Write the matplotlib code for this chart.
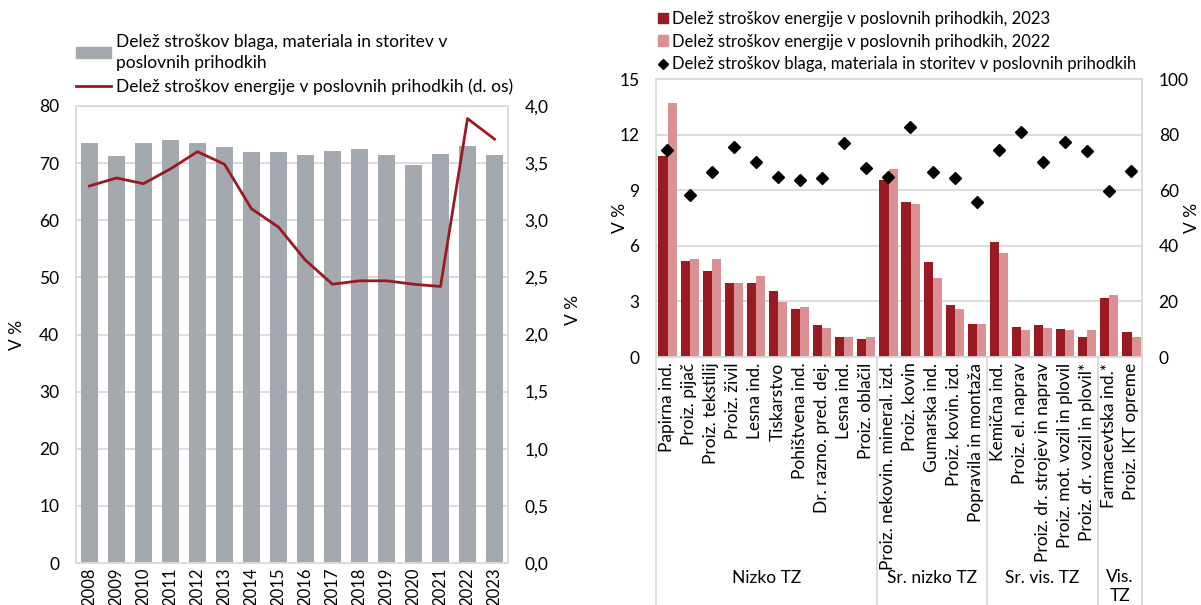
import matplotlib
matplotlib.use('Agg')
import matplotlib.pyplot as plt
from matplotlib.patches import Patch
from matplotlib.lines import Line2D
import matplotlib.transforms as mtransforms

plt.rcParams['font.family'] = ['Lato', 'DejaVu Sans']

# ---------------- data ----------------
years = [str(y) for y in range(2008, 2024)]
goods_share = [73.6, 71.3, 73.5, 74.1, 73.6, 72.9, 72.0, 71.9, 71.4, 72.2,
               72.5, 71.5, 69.6, 71.6, 73.0, 71.5]
energy_share = [3.30, 3.37, 3.32, 3.45, 3.60, 3.49, 3.10, 2.94, 2.65, 2.44,
                2.47, 2.47, 2.44, 2.42, 3.89, 3.71]

industries = ['Papirna ind.', 'Proiz. pijač', 'Proiz. tekstilij', 'Proiz. živil',
              'Lesna ind.', 'Tiskarstvo', 'Pohištvena ind.', 'Dr. razno. pred. dej.',
              'Lesna ind.', 'Proiz. oblačil',
              'Proiz. nekovin. mineral. izd.', 'Proiz. kovin', 'Gumarska ind.',
              'Proiz. kovin. izd.', 'Popravila in montaža',
              'Kemična ind.', 'Proiz. el. naprav', 'Proiz. dr. strojev in naprav',
              'Proiz. mot. vozil in plovil', 'Proiz. dr. vozil in plovil*',
              'Farmacevtska ind.*', 'Proiz. IKT opreme']
energy_2023 = [10.87, 5.16, 4.66, 3.99, 3.99, 3.58, 2.60, 1.74, 1.09, 0.99,
               9.56, 8.35, 5.12, 2.79, 1.77,
               6.23, 1.63, 1.70, 1.52, 1.06,
               3.19, 1.33]
energy_2022 = [13.72, 5.27, 5.27, 3.99, 4.35, 2.99, 2.70, 1.54, 1.07, 1.06,
               10.17, 8.24, 4.24, 2.60, 1.76,
               5.59, 1.45, 1.58, 1.47, 1.47,
               3.35, 1.06]
goods_ind = [74.4, 58.3, 66.5, 75.6, 70.2, 64.8, 63.5, 64.4, 76.8, 68.1,
             64.8, 82.9, 66.5, 64.4, 55.8,
             74.3, 81.1, 70.0, 77.4, 74.1,
             59.8, 67.0]
groups = ['Nizko TZ', 'Sr. nizko TZ', 'Sr. vis. TZ', 'Vis.\nTZ']
group_sizes = [10, 5, 5, 2]

# ---------------- style ----------------
GRAY = '#a3a9af'
DARK = '#9a1a21'
PINK = '#d99194'
GRID = '#d9d9d9'
FS = 12.5

W, H = 1201, 605
fig = plt.figure(figsize=(W / 100, H / 100), dpi=100)


def ax_rect(x0, y0, x1, y1):
    return [x0 / W, 1 - y1 / H, (x1 - x0) / W, (y1 - y0) / H]


# ================= left chart =================
L0, L1, LT, LB = 76, 508, 106, 563
ax1 = fig.add_axes(ax_rect(L0, LT, L1, LB))
x = list(range(len(years)))
ax1.bar(x, goods_share, width=0.63, color=GRAY, zorder=2)
ax1.set_xlim(-0.5, len(years) - 0.5)
ax1.set_ylim(0, 80)
ax1.set_yticks(range(0, 81, 10))
ax1.set_xticks(x)
ax1.set_xticklabels(years, rotation=90, fontsize=12)
ax1.tick_params(axis='y', length=0, labelsize=FS, pad=12)
ax1.tick_params(axis='x', length=0, pad=3.5)
ax1.yaxis.grid(True, color=GRID, lw=1.3, zorder=0)
ax1.set_axisbelow(True)
for s in ax1.spines.values():
    s.set_color(GRID)
    s.set_linewidth(1.3)
ax1.set_ylabel('V %', fontsize=FS)
ax1.yaxis.set_label_coords((25 - L0) / (L1 - L0), 0.5)

ax1r = ax1.twinx()
ax1r.plot(x, energy_share, color=DARK, lw=2.0, zorder=3)
ax1r.set_ylim(0, 4)
rt = [0, 0.5, 1, 1.5, 2, 2.5, 3, 3.5, 4]
ax1r.set_yticks(rt)
ax1r.set_yticklabels([f'{v:.1f}'.replace('.', ',') for v in rt])
ax1r.tick_params(axis='y', length=0, labelsize=FS, pad=12)
for s in ax1r.spines.values():
    s.set_visible(False)
ax1r.set_ylabel('V %', fontsize=FS)
ax1r.yaxis.set_label_coords((565 - L0) / (L1 - L0), (LB - 310) / (LB - LT))

h1 = [Patch(color=GRAY), Line2D([0], [0], color=DARK, lw=2.0)]
l1 = ['Delež stroškov blaga, materiala in storitev v\nposlovnih prihodkih',
      'Delež stroškov energije v poslovnih prihodkih (d. os)']
leg1 = fig.legend(h1, l1, loc='upper left', bbox_to_anchor=(L0 / W, 1 - 34 / H),
                  frameon=False, fontsize=FS, handlelength=2.0, handleheight=0.55,
                  handletextpad=0.3, labelspacing=0.45, borderpad=0, borderaxespad=0)
for t in leg1.get_texts():
    t.set_linespacing(1.35)

# ================= right chart =================
R0, R1, RT, RB = 656, 1142, 79, 357
ax2 = fig.add_axes(ax_rect(R0, RT, R1, RB))
n = len(industries)
xi = list(range(n))
ax2.bar([i - 0.18 for i in xi], energy_2023, width=0.42, color=DARK, zorder=2)
ax2.bar([i + 0.23 for i in xi], energy_2022, width=0.41, color=PINK, zorder=2)
ax2.set_xlim(-0.5, n - 0.5)
ax2.set_ylim(0, 15)
ax2.set_yticks([0, 3, 6, 9, 12, 15])
ax2.set_xticks(xi)
ax2.set_xticklabels(industries, rotation=90, fontsize=FS)
ax2.tick_params(axis='both', length=0, labelsize=FS)
ax2.tick_params(axis='x', pad=4)
ax2.tick_params(axis='y', pad=12)
ax2.yaxis.grid(True, color=GRID, lw=1.3, zorder=0)
ax2.set_axisbelow(True)
for s in ax2.spines.values():
    s.set_color(GRID)
    s.set_linewidth(1.3)
ax2.set_ylabel('V %', fontsize=FS)
ax2.yaxis.set_label_coords((628 - R0) / (R1 - R0), 0.5)

ax2r = ax2.twinx()
ax2r.plot([i + 0.02 for i in xi], goods_ind, linestyle='none', marker='D',
          markersize=6.5, color='black', zorder=4)
ax2r.set_ylim(0, 100)
ax2r.set_yticks(range(0, 101, 20))
ax2r.tick_params(axis='y', length=0, labelsize=FS, pad=12)
for s in ax2r.spines.values():
    s.set_visible(False)
ax2r.set_ylabel('V %', fontsize=FS)
ax2r.yaxis.set_label_coords((1184 - R0) / (R1 - R0), 0.5)

# group separators and labels
trans = mtransforms.blended_transform_factory(ax2.transData, ax2.transAxes)
bottom = -(H - RB) / (RB - RT)
bounds = [-0.5]
for g in group_sizes:
    bounds.append(bounds[-1] + g)
for b in bounds:
    ax2.add_line(Line2D([b, b], [0, bottom], transform=trans, color=GRID,
                        lw=1.3, clip_on=False))
for gi, name in enumerate(groups):
    cx = (bounds[gi] + bounds[gi + 1]) / 2
    if '\n' in name:
        ax2.text(cx, (RB - 569) / (RB - RT), name, transform=trans, ha='center',
                 va='top', fontsize=FS, linespacing=1.2)
    else:
        ax2.text(cx, (RB - 578) / (RB - RT), name, transform=trans, ha='center',
                 va='center', fontsize=FS)

h2 = [Patch(color=DARK), Patch(color=PINK),
      Line2D([0], [0], linestyle='none', marker='D', markersize=5, color='black')]
l2 = ['Delež stroškov energije v poslovnih prihodkih, 2023',
      'Delež stroškov energije v poslovnih prihodkih, 2022',
      'Delež stroškov blaga, materiala in storitev v poslovnih prihodkih']
fig.legend(h2, l2, loc='upper left', bbox_to_anchor=(658 / W, 1 - 11 / H),
           frameon=False, fontsize=12, handlelength=0.6, handleheight=0.6,
           handletextpad=0.25, labelspacing=0.4, borderpad=0, borderaxespad=0)

fig.savefig('out.png', dpi=100)
